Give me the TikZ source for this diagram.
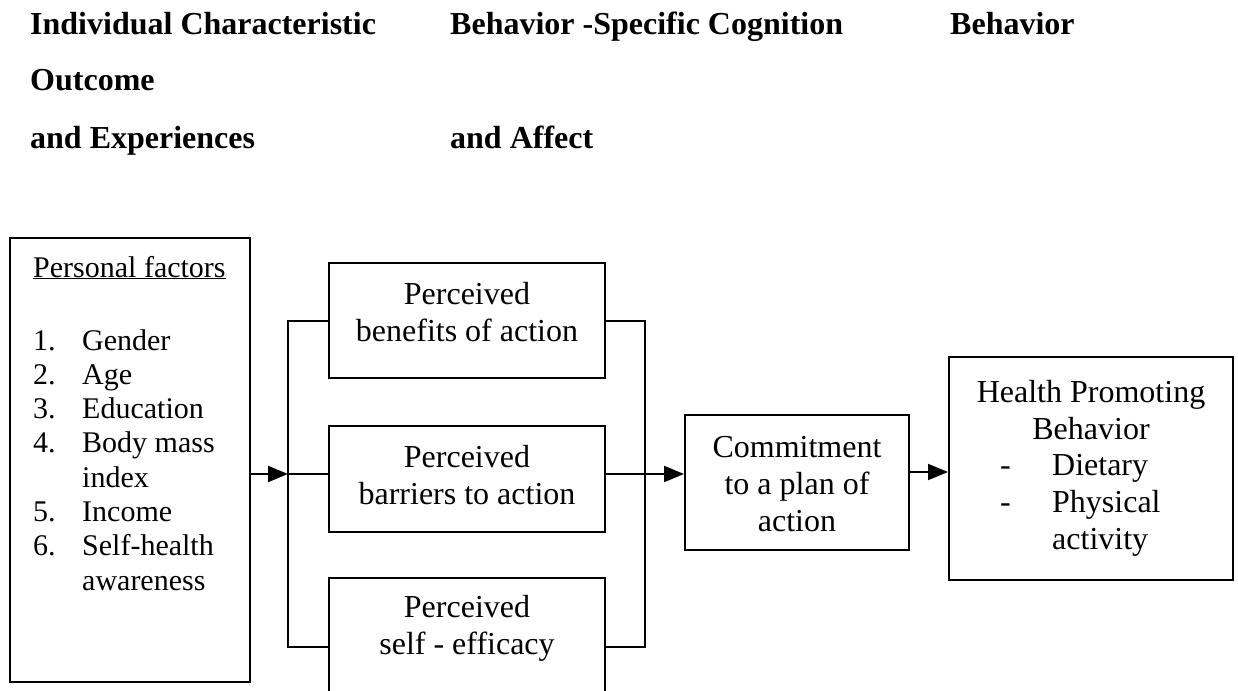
\documentclass[tikz,border=0pt]{standalone}
\usepackage{fontspec}
\setmainfont{Liberation Serif}
\usetikzlibrary{arrows.meta}
\begin{document}
\begin{tikzpicture}[x=1pt,y=-1pt,
  box/.style={draw, line width=2pt, inner sep=0pt},
  conn/.style={line width=2pt},
  arr/.style={line width=2pt, -{Triangle[length=20pt,width=16pt]}},
  hdr/.style={font=\fontsize{32}{36}\selectfont\bfseries, anchor=base west, inner sep=0pt},
  txt/.style={font=\fontsize{32}{37}\selectfont, align=center, inner sep=0pt},
  ltxt/.style={font=\fontsize{30}{34.3}\selectfont, anchor=base west, inner sep=0pt},
]
\useasboundingbox (0,0) rectangle (1238,690);
\clip (0,0) rectangle (1238,690);

% headers
\node[hdr] (h1) at (30,35) {Individual Characteristic};
\node[hdr] (h2) at (30,91) {Outcome};
\node[hdr] (h3) at (30,148) {and Experiences};
\node[hdr] (h4) at (450,35) {Behavior -Specific Cognition};
\node[hdr] (h5) at (450,148) {and Affect};
\node[hdr] (h6) at (950,35) {Behavior};

% boxes
\node[box, minimum width=240pt, minimum height=444pt] (left) at (130,460) {};
\node[box, minimum width=276pt, minimum height=115pt] (b1) at (467,320.5) {};
\node[box, minimum width=276pt, minimum height=106pt] (b2) at (467,479) {};
\node[box, minimum width=276pt, minimum height=138pt] (b3) at (467,647) {};
\node[box, minimum width=224pt, minimum height=135pt] (comm) at (797,482.5) {};
\node[box, minimum width=284pt, minimum height=223pt] (health) at (1091,468.5) {};

% texts
\node[ltxt] (pf) at (33,277) {\underline{Personal factors}};
\node[ltxt] (list) at (33,350) {\begin{tabular}[t]{@{}p{49pt}@{}l@{}}
1. & Gender\\
2. & Age\\
3. & Education\\
4. & Body mass\\
   & index\\
5. & Income\\
6. & Self-health\\
   & awareness
\end{tabular}};
\node[txt] (t1) at (467,312) {Perceived\\benefits of action};
\node[txt] (t2) at (467,475) {Perceived\\barriers to action};
\node[txt] (t3) at (467,628) {Perceived\\self - efficacy};
\node[txt] (tc) at (797,484) {Commitment\\to a plan of\\action};
\node[txt] (th) at (1091,410) {Health Promoting\\Behavior};
\node[txt, anchor=base west] (tl) at (1000,475) {\begin{tabular}[t]{@{}p{52pt}@{}l@{}}
- & Dietary\\
- & Physical\\
  & activity
\end{tabular}};

% connectors
\coordinate (mid) at (0,474);
\coordinate (mid2) at (0,472);
\coordinate (bl) at (288,0);
\coordinate (br) at (645,0);
\draw[arr] (left.east |- mid) -- (bl |- mid);
\draw[conn] (b1.west) -- (b1.west -| bl) -- (b3.west -| bl) -- (b3.west);
\draw[conn] (bl |- mid) -- (b2.west |- mid);
\draw[conn] (b1.east) -- (b1.east -| br) -- (b3.east -| br) -- (b3.east);
\draw[arr] (b2.east |- mid) -- (comm.west |- mid);
\draw[arr] (comm.east |- mid2) -- (health.west |- mid2);
\end{tikzpicture}
\end{document}
